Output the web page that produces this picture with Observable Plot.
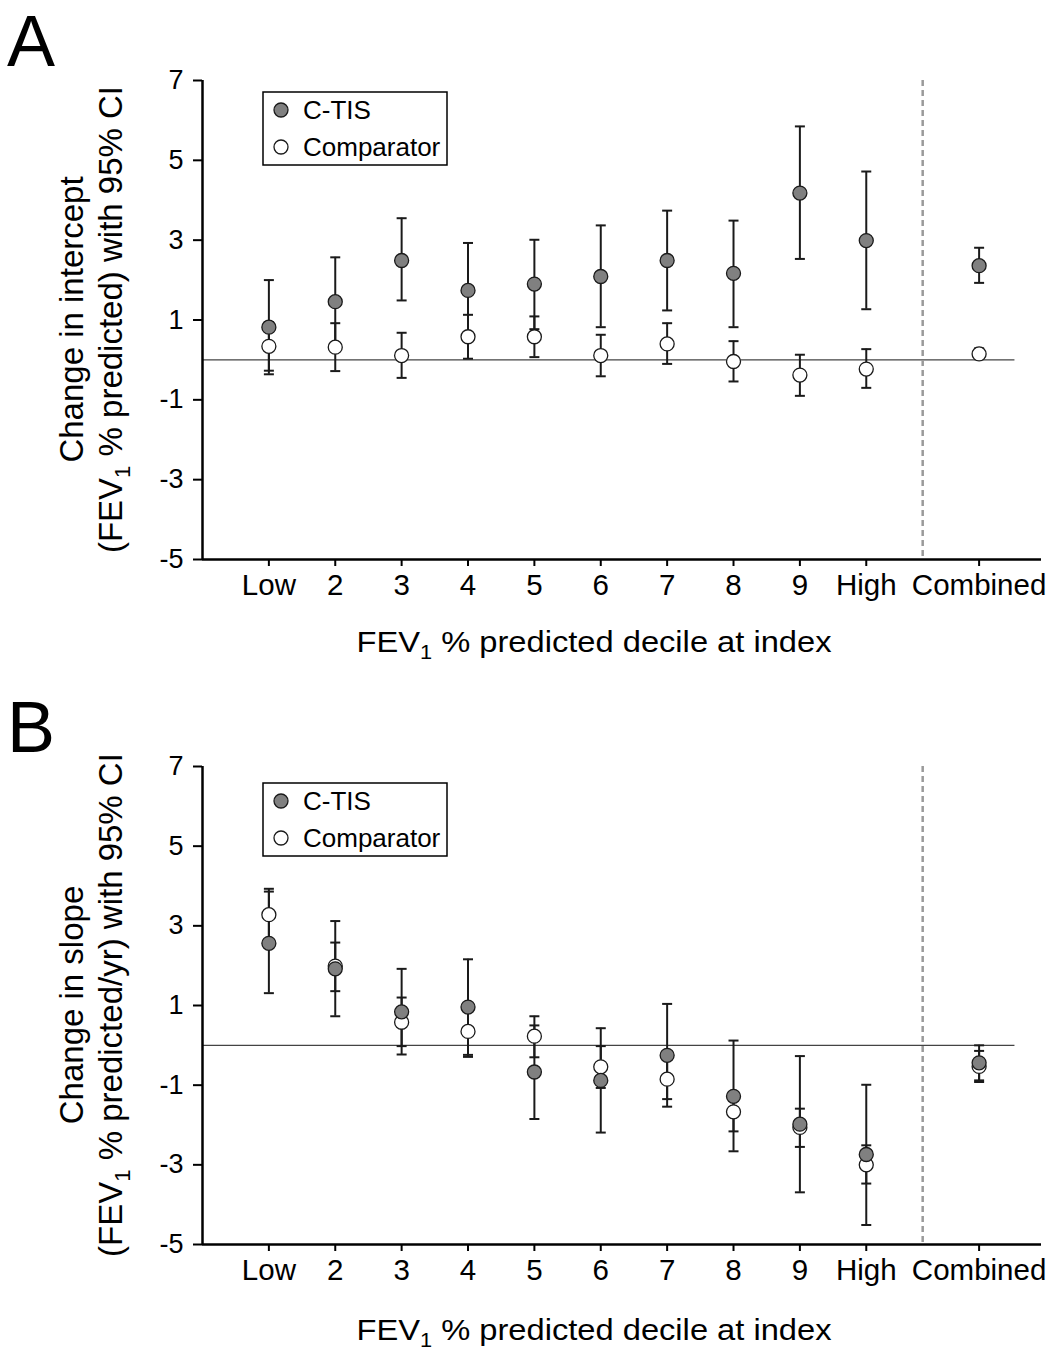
<!DOCTYPE html>
<html>
<head>
<meta charset="utf-8">
<script src="https://cdn.jsdelivr.net/npm/d3@7"></script>
<script src="https://cdn.jsdelivr.net/npm/@observablehq/plot@0.6"></script>
<style>
  html, body { margin: 0; padding: 0; background: #fff; overflow: hidden; }
  #chart svg { display: block; }
</style>
</head>
<body>
<div id="chart"></div>
<script>
// ---------- data ----------
const categories = ["Low", "2", "3", "4", "5", "6", "7", "8", "9", "High", "Combined"];
const seriesNames = ["C-TIS", "Comparator"];
const yTicks = [-5, -3, -1, 1, 3, 5, 7];

// Panel A: change in intercept
const interceptCtis   = [0.82, 1.46, 2.49, 1.74, 1.90, 2.09, 2.49, 2.17, 4.18, 2.99, 2.36];
const interceptCtisLo = [-0.36, 0.35, 1.49, 0.55, 0.77, 0.82, 1.24, 0.82, 2.53, 1.27, 1.93];
const interceptCtisHi = [2.00, 2.57, 3.55, 2.93, 3.01, 3.37, 3.74, 3.49, 5.85, 4.72, 2.81];
const interceptComp   = [0.34, 0.32, 0.11, 0.58, 0.58, 0.11, 0.40, -0.04, -0.38, -0.23, 0.15];
const interceptCompLo = [-0.27, -0.28, -0.45, 0.03, 0.07, -0.41, -0.10, -0.54, -0.90, -0.70, 0.02];
const interceptCompHi = [0.95, 0.92, 0.68, 1.13, 1.09, 0.63, 0.92, 0.47, 0.13, 0.27, 0.29];

// Panel B: change in slope
const slopeCtis   = [2.56, 1.92, 0.84, 0.96, -0.67, -0.88, -0.25, -1.28, -1.98, -2.74, -0.44];
const slopeCtisLo = [1.31, 0.73, -0.23, -0.24, -1.85, -2.19, -1.54, -2.66, -3.69, -4.51, -0.88];
const slopeCtisHi = [3.86, 3.12, 1.92, 2.16, 0.50, 0.43, 1.04, 0.12, -0.27, -0.99, 0.00];
const slopeComp   = [3.28, 1.99, 0.58, 0.35, 0.23, -0.54, -0.85, -1.67, -2.06, -3.00, -0.53];
const slopeCompLo = [2.63, 1.36, -0.02, -0.29, -0.30, -1.07, -1.35, -2.16, -2.55, -3.47, -0.92];
const slopeCompHi = [3.93, 2.58, 1.20, 0.99, 0.73, -0.02, -0.35, -1.18, -1.59, -2.51, -0.14];

// ---------- layout helpers ----------
const combinedGap = 1.7;
const xpos = categories.map((c, i) => i < categories.length - 1 ? i + 1 : (categories.length - 1) + combinedGap);
const dividerX = (xpos[xpos.length - 2] + xpos[xpos.length - 1]) / 2;
const zeroEnd = xpos[xpos.length - 1] + 0.54;
const FONT = "'Liberation Sans', Arial, Helvetica, sans-serif";
const DARK = "#1a1a1a";
const GREY = "#808080";

const capSymbol = {
  draw(context, size) {
    const w = Math.sqrt(size / Math.PI);
    context.moveTo(-w, 0);
    context.lineTo(w, 0);
  }
};

function panel(opts) {
  const rows = categories.map((c, i) => ({
    cat: c, x: xpos[i],
    ctis: opts.ctis[i], ctisLo: opts.ctisLo[i], ctisHi: opts.ctisHi[i],
    comp: opts.comp[i], compLo: opts.compLo[i], compHi: opts.compHi[i]
  }));
  const svg = Plot.plot({
    width: 1063,
    height: opts.height,
    marginTop: 80,
    marginLeft: 202,
    marginRight: 22,
    marginBottom: opts.marginBottom,
    style: { fontFamily: FONT, fontSize: "28px", color: "#000", background: "#fff", overflow: "visible" },
    x: { domain: [0, 12.64], axis: null },
    y: { domain: [-5, 7], axis: null },
    marks: [
      Plot.ruleY([0], { x1: 0, x2: zeroEnd, stroke: "#444", strokeWidth: 1.4 }),
      Plot.ruleX([dividerX], { stroke: "#9a9a9a", strokeWidth: 2.5, strokeDasharray: "6,4" }),
      Plot.axisY({ ticks: yTicks, tickSize: 9, tickPadding: 10, fontSize: 27, strokeWidth: 2, label: null, tickFormat: d => String(d) }),
      Plot.axisX({ ticks: xpos, tickSize: 7, tickPadding: 8, fontSize: 29.5, strokeWidth: 2, label: null,
                   tickFormat: d => categories[xpos.indexOf(d)] }),
      Plot.ruleX([0], { stroke: "#000", strokeWidth: 2.5 }),
      Plot.ruleY([-5], { stroke: "#000", strokeWidth: 2.5 }),
      // error bars
      Plot.ruleX(rows, { x: "x", y1: "compLo", y2: "compHi", stroke: DARK, strokeWidth: 2 }),
      Plot.dot(rows, { x: "x", y: "compLo", symbol: capSymbol, r: 5, fill: "none", stroke: DARK, strokeWidth: 2 }),
      Plot.dot(rows, { x: "x", y: "compHi", symbol: capSymbol, r: 5, fill: "none", stroke: DARK, strokeWidth: 2 }),
      Plot.ruleX(rows, { x: "x", y1: "ctisLo", y2: "ctisHi", stroke: DARK, strokeWidth: 2 }),
      Plot.dot(rows, { x: "x", y: "ctisLo", symbol: capSymbol, r: 5, fill: "none", stroke: DARK, strokeWidth: 2 }),
      Plot.dot(rows, { x: "x", y: "ctisHi", symbol: capSymbol, r: 5, fill: "none", stroke: DARK, strokeWidth: 2 }),
      // points
      Plot.dot(rows, { x: "x", y: "comp", r: 7, fill: "#fff", stroke: DARK, strokeWidth: 1.3 }),
      Plot.dot(rows, { x: "x", y: "ctis", r: 7, fill: GREY, stroke: DARK, strokeWidth: 1.3 })
    ]
  });

  const s = d3.select(svg).attr("font-family", FONT);

  // panel letter
  s.append("text").attr("x", 7).attr("y", 66).attr("text-anchor", "start")
    .attr("font-size", 72).attr("fill", "#000").text(opts.letter);

  // y-axis title (two lines, rotated)
  const yc = 80 + (opts.height - 80 - opts.marginBottom) / 2;
  s.append("text").attr("transform", `translate(83,${yc}) rotate(-90)`).attr("text-anchor", "middle")
    .attr("font-size", 33).attr("fill", "#000").text(opts.yLine1);
  const t2 = s.append("text").attr("transform", `translate(122,${yc}) rotate(-90)`).attr("text-anchor", "middle")
    .attr("font-size", 33).attr("fill", "#000");
  t2.append("tspan").text("(FEV");
  t2.append("tspan").attr("font-size", 22).attr("dy", 8).text("1");
  t2.append("tspan").attr("dy", -8).text(opts.yLine2rest);

  // x-axis title
  const xt = s.append("text").attr("x", 594).attr("y", opts.xTitleY).attr("text-anchor", "middle")
    .attr("font-size", 30).attr("fill", "#000")
    .attr("textLength", 475).attr("lengthAdjust", "spacingAndGlyphs");
  xt.append("tspan").text("FEV");
  xt.append("tspan").attr("font-size", 20).attr("dy", 7).text("1");
  xt.append("tspan").attr("dy", -7).text(" % predicted decile at index");

  // legend
  const lg = s.append("g").attr("transform", `translate(263,${opts.legendY})`);
  lg.append("rect").attr("width", 184).attr("height", 73).attr("fill", "#fff").attr("stroke", "#000").attr("stroke-width", 1.5);
  const fills = [GREY, "#fff"];
  seriesNames.forEach((name, i) => {
    lg.append("circle").attr("cx", 18).attr("cy", 18 + i * 37).attr("r", 7).attr("fill", fills[i]).attr("stroke", DARK).attr("stroke-width", 1.3);
    lg.append("text").attr("x", 40).attr("y", 18 + i * 37 + 9).attr("text-anchor", "start")
      .attr("font-size", 26).attr("fill", "#000").text(name);
  });
  return svg;
}

const chart = document.getElementById("chart");
chart.appendChild(panel({
  ctis: interceptCtis, ctisLo: interceptCtisLo, ctisHi: interceptCtisHi,
  comp: interceptComp, compLo: interceptCompLo, compHi: interceptCompHi,
  height: 686, marginBottom: 127, letter: "A",
  yLine1: "Change in intercept", yLine2rest: " % predicted) with 95% CI",
  xTitleY: 652, legendY: 92
}));
chart.appendChild(panel({
  ctis: slopeCtis, ctisLo: slopeCtisLo, ctisHi: slopeCtisHi,
  comp: slopeComp, compLo: slopeCompLo, compHi: slopeCompHi,
  height: 669, marginBottom: 111, letter: "B",
  yLine1: "Change in slope", yLine2rest: " % predicted/yr) with 95% CI",
  xTitleY: 654, legendY: 97
}));
</script>
</body>
</html>
